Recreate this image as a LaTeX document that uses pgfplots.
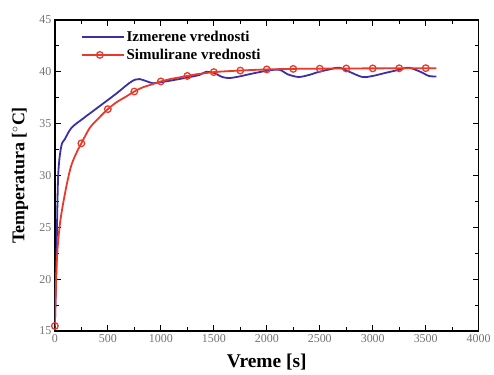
\documentclass[border=0pt]{standalone}
\usepackage{pgfplots}
\pgfplotsset{compat=1.18}
\usepackage{fontspec}
\setmainfont{Liberation Serif}
\definecolor{mblue}{HTML}{3A2FA8}
\definecolor{mred}{HTML}{E8392A}
\begin{document}
\begin{tikzpicture}
\begin{axis}[
  scale only axis,
  width=425pt, height=312pt,
  xmin=0, xmax=4000, ymin=15, ymax=45,
  xtick={0,500,...,4000}, ytick={15,20,...,45},
  minor x tick num=1, minor y tick num=1,
  tick align=inside,
  major tick length=6pt, minor tick length=4pt,
  every tick/.style={black, line width=1.2pt},
  axis line style={line width=1.4pt},
  tick label style={font=\fontsize{12}{14}\selectfont, text=black!55},
  /pgf/number format/assume math mode=true,
  /pgf/number format/1000 sep={},
  xlabel={\textbf{Vreme [s]}},
  ylabel={\textbf{Temperatura [$^\circ$C]}},
  every axis x label/.style={at={([yshift=-31pt]rel axis cs:0.5,0)}, anchor=center,
    font=\fontsize{19.5}{22}\selectfont},
  every axis y label/.style={at={([xshift=-35pt]rel axis cs:0,0.5)}, anchor=center,
    rotate=90, font=\fontsize{18}{20}\selectfont},
  legend style={draw=none, fill=none, at={([xshift=25pt,yshift=-8pt]rel axis cs:0,1)}, anchor=north west,
    font=\fontsize{15}{17}\selectfont\bfseries, row sep=2pt, inner sep=1pt},
  legend cell align=left,
]
\coordinate (bl) at (rel axis cs:0,0);
\coordinate (tr) at (rel axis cs:1,1);
\addplot[mblue, line width=1.8pt, smooth,
  legend image code/.code={\draw[mblue, line width=1.8pt] (0pt,0pt) -- (36pt,0pt);
     \path (0pt,0pt) -- (42pt,0pt);}] coordinates {
(0,15.2) (15,22) (31,29.9) (60,32.8) (94,33.5) (157,34.6) (267,35.5) (424,36.7)
(580,37.9) (700,38.9) (760,39.25) (800,39.3) (863,39.1) (925,38.9) (1000,39.0)
(1120,39.2) (1250,39.45) (1365,39.7) (1427,40.0) (1500,39.9) (1580,39.5)
(1647,39.4) (1741,39.55) (1850,39.8) (2000,40.1) (2118,40.2) (2200,39.75)
(2300,39.5) (2400,39.7) (2494,40.0) (2600,40.25) (2682,40.4) (2780,40.0)
(2902,39.5) (3000,39.6) (3122,39.9) (3250,40.2) (3341,40.4) (3450,40.0) (3530,39.6) (3600,39.55)
};
\addlegendentry{Izmerene vrednosti}
\addplot[mred, line width=1.8pt, smooth, mark=o, mark size=3.3pt,
  mark options={solid, fill=white, line width=1.3pt},
  mark indices={1,7,10,13,16,19,22,25,28,31,34,37,40,43,46},
  legend image code/.code={\draw[mred, densely dotted, line width=0.9pt] (0pt,0pt) -- (36pt,0pt);
     \draw[mred, fill=white, line width=1.3pt] (18pt,0pt) circle (3.3pt);
     \path (0pt,0pt) -- (42pt,0pt);}] coordinates {
(0,15.5) (20,22) (50,25.5) (100,28.5) (150,30.8) (200,32.1) (250,33.1)
(330,34.6) (420,35.6) (500,36.4) (580,37.05) (670,37.6) (750,38.1)
(830,38.5) (920,38.8) (1000,39.07) (1080,39.28) (1170,39.45) (1250,39.6)
(1330,39.75) (1420,39.87) (1500,39.97) (1580,40.03) (1670,40.08) (1750,40.12)
(1830,40.16) (1920,40.2) (2000,40.23) (2080,40.25) (2170,40.27) (2250,40.28)
(2330,40.29) (2420,40.3) (2500,40.3) (2580,40.31) (2670,40.31) (2750,40.32)
(2830,40.32) (2920,40.33) (3000,40.33) (3080,40.33) (3170,40.34) (3250,40.34)
(3330,40.34) (3420,40.35) (3500,40.35) (3550,40.35) (3600,40.35)
};
\addlegendentry{Simulirane vrednosti}
\end{axis}
\path (bl) ++(-55pt,-44pt) (tr) ++(14pt,20pt);
\end{tikzpicture}
\end{document}
